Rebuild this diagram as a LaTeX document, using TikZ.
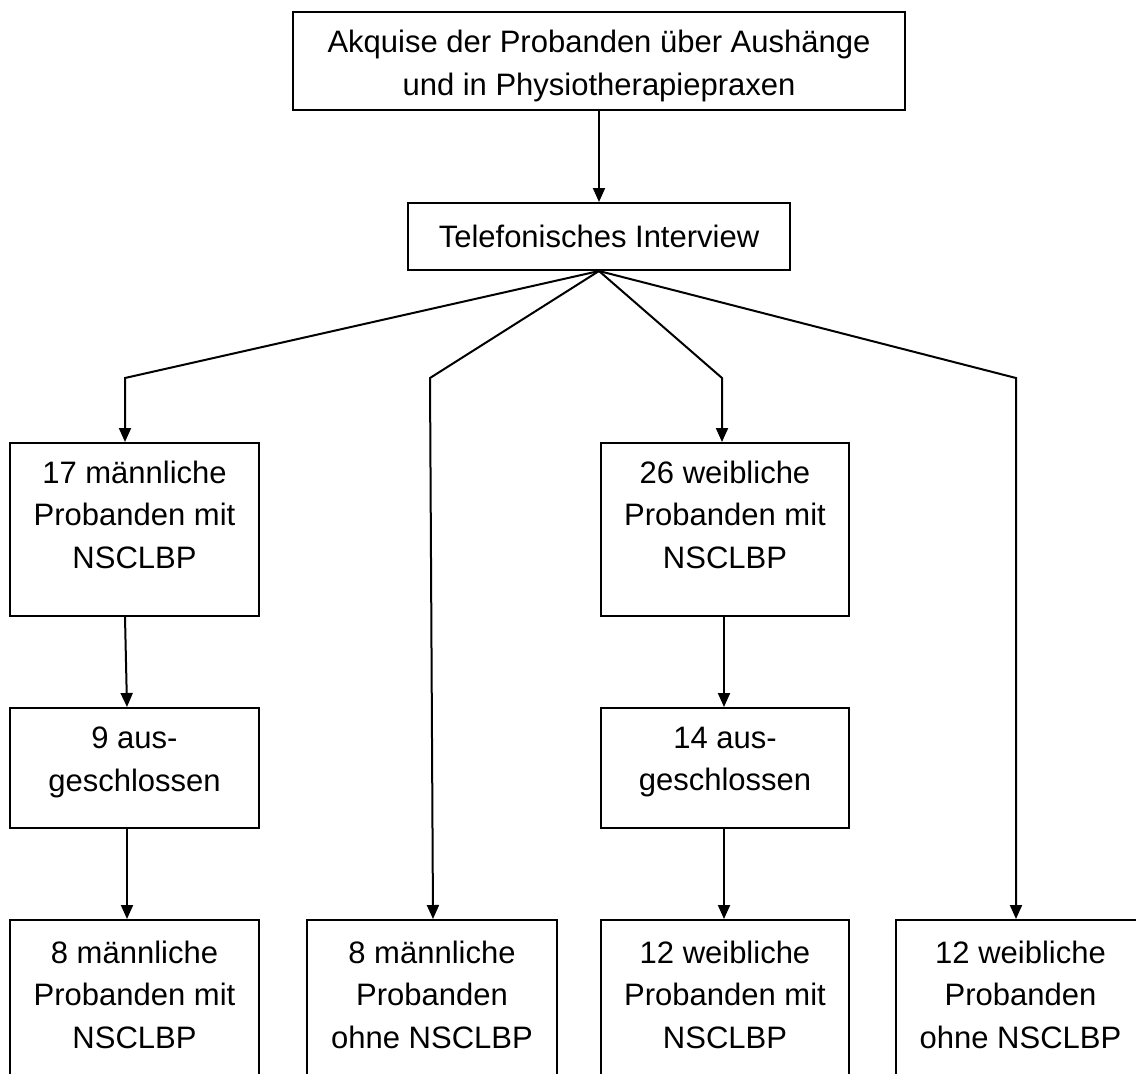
\documentclass[tikz,border=0pt]{standalone}
\usepackage{fontspec}
\setmainfont{Liberation Sans}
\usetikzlibrary{arrows.meta}
\newcommand{\bxt}[4]{\parbox[c][#2pt][t]{#1pt}{\centering\fontsize{31pt}{42.5pt}\selectfont\vspace*{#3pt}#4}}
\tikzset{
  bx/.style={draw, line width=2pt, rectangle, inner sep=0pt},
  conn/.style={line width=2pt, line join=miter},
  arr/.style={conn, -{Triangle[length=14pt,width=12pt]}}
}
\begin{document}
\begin{tikzpicture}[x=1pt,y=-1pt]
\clip (0,0) rectangle (1136,1074);
\fill[white] (0,0) rectangle (1136,1074);
% boxes
\node[bx] (top) at (599,61) {\bxt{612}{98}{0}{\vspace*{10pt}\vfill Akquise der Probanden über Aushänge\\und in Physiotherapiepraxen\vfill}};
\node[bx] (tel) at (599,236.5) {\bxt{382}{67}{0}{\vfill Telefonisches Interview\vfill}};
\node[bx] (b1) at (134.5,529.5) {\bxt{249}{173}{18}{17 männliche\\Probanden mit\\NSCLBP}};
\node[bx] (b3) at (725,529.5) {\bxt{248}{173}{18}{26 weibliche\\Probanden mit\\NSCLBP}};
\node[bx] (b9) at (134.5,768) {\bxt{249}{120}{19}{9 aus-\\geschlossen}};
\node[bx] (b14) at (725,768) {\bxt{248}{120}{19}{14 aus-\\geschlossen}};
\node[bx] (bA) at (134.5,1020) {\bxt{249}{200}{21}{8 männliche\\Probanden mit\\NSCLBP}};
\node[bx] (bB) at (432,1020) {\bxt{250}{200}{21}{8 männliche\\Probanden\\ohne NSCLBP}};
\node[bx] (bC) at (725,1020) {\bxt{248}{200}{21}{12 weibliche\\Probanden mit\\NSCLBP}};
\node[bx] (bD) at (1020.5,1020) {\bxt{249}{200}{21}{12 weibliche\\Probanden\\ohne NSCLBP}};
% corner points
\coordinate (c1) at (125,378);
\coordinate (c2) at (430,378);
\coordinate (c3) at (722,378);
\coordinate (c4) at (1016,378);
% connectors
\draw[arr] (top.south) -- (tel.north);
\draw[arr] (tel.south) -- (c1) -- (c1 |- b1.north);
\draw[arr] (tel.south) -- (c2) -- ([xshift=1pt]bB.north);
\draw[arr] (tel.south) -- (c3) -- (c3 |- b3.north);
\draw[arr] (tel.south) -- (c4) -- (c4 |- bD.north);
\draw[arr] ([xshift=-9.5pt]b1.south) -- ([xshift=-7.5pt]b9.north);
\draw[arr] ([xshift=-7.5pt]b9.south) -- ([xshift=-7.5pt]bA.north);
\draw[arr] ([xshift=-1pt]b3.south) -- ([xshift=-1pt]b14.north);
\draw[arr] ([xshift=-1pt]b14.south) -- ([xshift=-1pt]bC.north);
\end{tikzpicture}
\end{document}
